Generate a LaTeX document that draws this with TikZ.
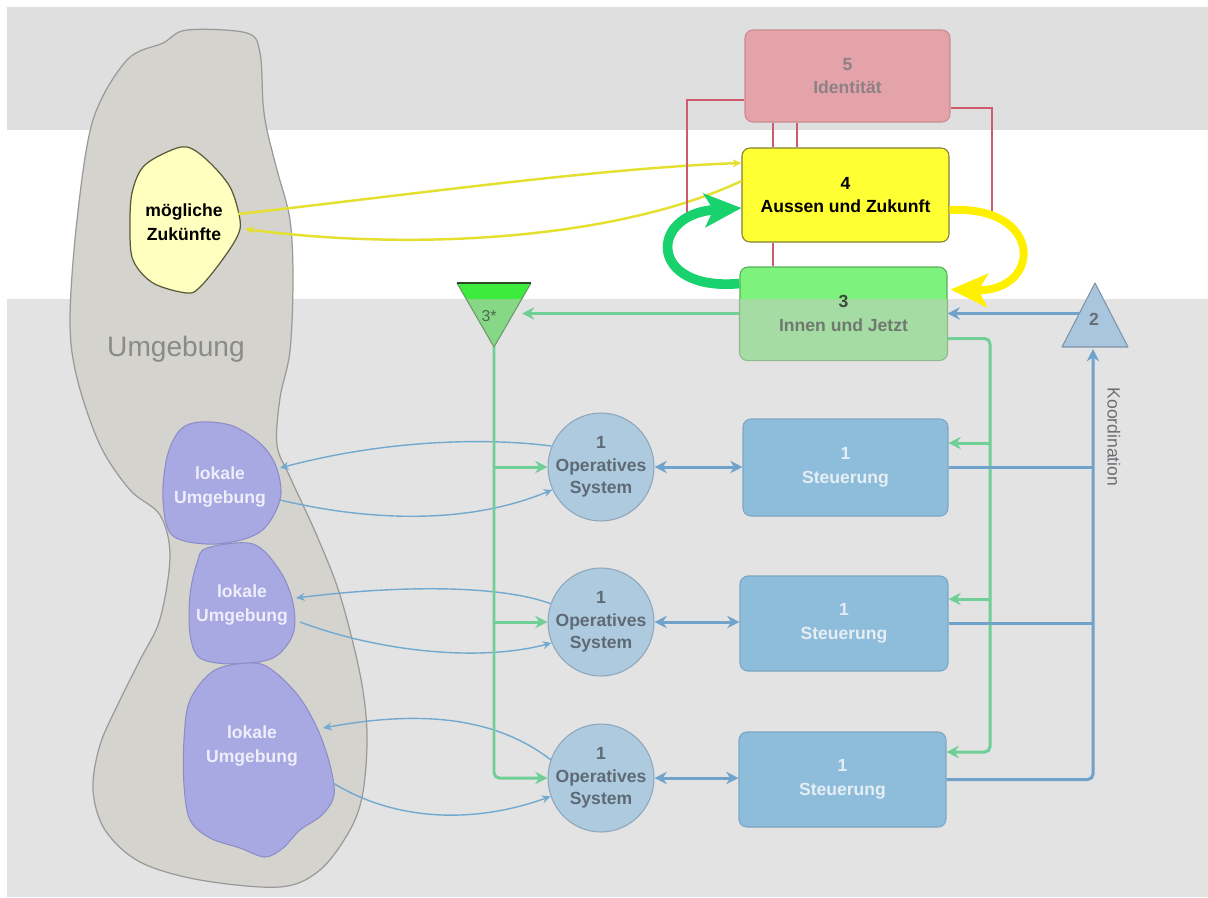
\documentclass[tikz,border=0pt]{standalone}
\usepackage{fontspec}
\setmainfont{Liberation Sans}
\usetikzlibrary{arrows.meta,shapes.geometric,calc}

% palette
\definecolor{topband}{HTML}{DFDFDF}
\definecolor{lowband}{HTML}{E3E3E3}
\definecolor{envfill}{HTML}{D4D3CE}
\definecolor{envline}{HTML}{9A9A9A}
\definecolor{envtext}{HTML}{8A8A8A}
\definecolor{mzfill}{HTML}{FFFFC0}
\definecolor{mzline}{HTML}{5A5A3A}
\definecolor{lufill}{HTML}{A8A8E3}
\definecolor{luline}{HTML}{8C8CC8}
\definecolor{lutext}{HTML}{EEEEFB}
\definecolor{idfill}{HTML}{E3A3A8}
\definecolor{idline}{HTML}{C98A90}
\definecolor{idtext}{HTML}{8C8286}
\definecolor{fzfill}{HTML}{FFFF33}
\definecolor{fzline}{HTML}{7F7F30}
\definecolor{gtop}{HTML}{7DF27D}
\definecolor{gbot}{HTML}{A4DCA4}
\definecolor{glinetop}{HTML}{55B055}
\definecolor{glinebot}{HTML}{8FB88F}
\definecolor{gnum}{HTML}{3A4A3A}
\definecolor{gtext}{HTML}{707870}
\definecolor{ttop}{HTML}{3DEB3D}
\definecolor{tbot}{HTML}{86D886}
\definecolor{tside}{HTML}{6A9A6A}
\definecolor{tedge}{HTML}{2A4A2A}
\definecolor{ttext}{HTML}{4A6A4A}
\definecolor{kofill}{HTML}{A9C6DF}
\definecolor{koline}{HTML}{7F93A8}
\definecolor{kotext}{HTML}{6A6E72}
\definecolor{opfill}{HTML}{AECADF}
\definecolor{opline}{HTML}{8EA6BC}
\definecolor{optext}{HTML}{5E6A75}
\definecolor{stfill}{HTML}{8DBDDB}
\definecolor{stline}{HTML}{7CA6C2}
\definecolor{sttext}{HTML}{E6EEF4}
\definecolor{tealc}{HTML}{6FCF97}
\definecolor{bluec}{HTML}{6FA3CC}
\definecolor{thinbluec}{HTML}{72A9D0}
\definecolor{redc}{HTML}{D05A6E}
\definecolor{ythin}{HTML}{E5DF30}
\definecolor{ythick}{HTML}{FFF000}
\definecolor{gthick}{HTML}{18D26E}

\begin{document}
\begin{tikzpicture}[x=0.02cm,y=-0.02cm,
  lbl/.style={font=\bfseries\fontsize{10}{13.5}\selectfont, align=center, inner sep=0pt},
  sysbox/.style={rectangle, rounded corners=4.5pt, minimum width=4.14cm, minimum height=1.9cm,
    inner sep=0pt, align=center, font=\bfseries\fontsize{10}{13.5}\selectfont, line width=0.6pt},
  steerbox/.style={sysbox, fill=stfill, draw=stline, text=sttext},
  opsys/.style={ellipse, minimum width=2.12cm, minimum height=2.16cm, inner sep=0pt,
    fill=opfill, draw=opline, line width=0.6pt},
  optxt/.style={text=optext, align=center, inner sep=0pt,
    font=\bfseries\fontsize{10}{12.8}\selectfont},
  blob/.style={fill=lufill, draw=luline, line width=0.6pt},
  lutxt/.style={lbl, text=lutext},
  tealline/.style={draw=tealc, line width=1.7pt},
  blueline/.style={draw=bluec, line width=1.7pt},
  thinblue/.style={draw=thinbluec, line width=0.8pt},
  redline/.style={draw=redc, line width=0.8pt},
  ythinline/.style={draw=ythin, line width=1.4pt},
  smalltip/.tip={Stealth[length=5pt,width=4.5pt]},
  midtip/.tip={Stealth[length=7pt,width=7pt]},
  bigtip/.tip={Stealth[length=21pt,width=19pt,inset=5pt]}
]
\useasboundingbox (0,0) rectangle (1208,897);

% background bands
\fill[white] (0,0) rectangle (1208,897);
\fill[topband] (7,7) rectangle (1208,130);
\fill[lowband] (7,299) rectangle (1208,897);

% environment and its parts
\draw[fill=envfill, draw=envline, line width=0.7pt] plot[smooth cycle, tension=0.55] coordinates {
  (163,43) (187,30) (247,33) (260,53) (263,103) (267,130) (277,170) (290,220) (293,280)
  (290,351) (280,398) (277,445) (290,477) (317,536) (340,595) (360,674) (367,733) (363,792)
  (350,830) (320,870) (280,887) (200,880) (140,862) (105,830) (93,790) (100,745) (120,700)
  (140,660) (160,619) (170,556) (160,515) (130,490) (100,445) (77,378) (70,320) (77,220)
  (93,120) (127,60)};
\node[font=\fontsize{16}{18}\selectfont, text=envtext, inner sep=0pt] (umg) at (176,349) {Umgebung};

\draw[fill=mzfill, draw=mzline, line width=0.7pt] plot[smooth cycle, tension=0.55] coordinates {
  (187,147) (207,160) (230,187) (240,220) (237,237) (220,263) (200,287) (187,293) (153,283)
  (133,260) (130,227) (132,193) (143,167) (167,152)};
\node[lbl, text=black] (mz) at (184,222) {mögliche\\Zukünfte};

\draw[blob] plot[smooth cycle, tension=0.55] coordinates {
  (200,422) (233,426) (262,445) (277,469) (280,500) (260,532) (217,544) (173,536) (163,500)
  (167,457) (180,430)};
\draw[blob] plot[smooth cycle, tension=0.55] coordinates {
  (207,548) (253,544) (280,571) (293,603) (293,634) (273,658) (233,664) (200,658) (190,634)
  (190,595) (197,563)};
\draw[blob] plot[smooth cycle, tension=0.55] coordinates {
  (215,670) (255,663) (276,673) (300,698) (318,730) (330,765) (334,795) (322,815) (300,830)
  (283,848) (265,857) (240,848) (210,838) (190,820) (184,785) (184,740) (190,700)};
\node[lutxt] (lu1) at (220,487) {lokale\\Umgebung};
\node[lutxt] (lu2) at (242,605) {lokale\\Umgebung};
\node[lutxt] (lu3) at (252,746) {lokale\\Umgebung};

% attachment points on the drawn outlines
\coordinate (mzOut) at (238,214);
\coordinate (mzIn) at (245,229);
\coordinate (lu1in) at (280,468);
\coordinate (lu1out) at (280,500);
\coordinate (lu2in) at (296,598);
\coordinate (lu2out) at (300,622);
\coordinate (lu3in) at (323,728);
\coordinate (lu3out) at (333,783);

% systems 5, 4, 3
\node[sysbox, fill=idfill, draw=idline, text=idtext, minimum width=4.1cm, minimum height=1.84cm] (b5) at (847.5,76) {5\\Identität};
\node[sysbox, fill=fzfill, draw=fzline, text=black, minimum height=1.88cm] (b4) at (845.5,195) {4\\Aussen und Zukunft};
\node[sysbox, fill=gtop, draw=glinetop, minimum height=1.86cm] (b3) at (843.5,313.5) {};
\begin{scope}
  \clip (0,299) rectangle (1208,897);
  \fill[gbot, rounded corners=4.5pt] (b3.south west) rectangle (b3.north east);
  \draw[glinebot, line width=0.6pt, rounded corners=4.5pt] (b3.south west) rectangle (b3.north east);
\end{scope}
\node[lbl] (b3txt) at (b3.center) {{\color{gnum}3}\\{\color{gtext}Innen und Jetzt}};

% triangle 3*
\coordinate (t3a) at (457,283);
\coordinate (t3b) at (531,283);
\coordinate (t3c) at (494,347);
\coordinate (t3r) at (522,313.5);
\fill[ttop] (t3a) -- (t3b) -- (t3c) -- cycle;
\begin{scope}
  \clip (0,299) rectangle (1208,897);
  \fill[tbot] (t3a) -- (t3b) -- (t3c) -- cycle;
\end{scope}
\draw[tside, line width=0.6pt, line join=round] (t3b) -- (t3c) -- (t3a);
\draw[tedge, line width=0.9pt] (t3a) -- (t3b);
\node[font=\fontsize{9}{10}\selectfont, text=ttext, inner sep=0pt] (t3l) at (489,316) {3*};

% triangle 2
\coordinate (t2a) at (1095,283);
\coordinate (t2b) at (1062,347);
\coordinate (t2c) at (1128,347);
\coordinate (t2l) at (1079,313.5);
\coordinate (t2base) at (1093,349);
\filldraw[fill=kofill, draw=koline, line width=0.6pt, line join=round] (t2a) -- (t2b) -- (t2c) -- cycle;
\node[font=\bfseries\fontsize{10}{12}\selectfont, text=kotext, inner sep=0pt] (t2l2) at (1094,319) {2};
\node[rotate=-90, font=\fontsize{10}{12}\selectfont, text=kotext, inner sep=0pt] (koord) at (1114,437) {Koordination};

% operations and their control units
\node[opsys] (c1) at (601,467) {};
\node[opsys] (c2) at (601,622) {};
\node[opsys] (c3) at (601,778) {};
\node[optxt] (c1t) at (c1.center) {1\\Operatives\\System};
\node[optxt] (c2t) at (c2.center) {1\\Operatives\\System};
\node[optxt] (c3t) at (c3.center) {1\\Operatives\\System};
\node[steerbox, minimum width=4.1cm, minimum height=1.94cm] (s1) at (845.5,467.5) {1\\Steuerung};
\node[steerbox, minimum width=4.16cm] (s2) at (844,623.5) {1\\Steuerung};
\node[steerbox, minimum width=4.14cm] (s3) at (842.5,779.5) {1\\Steuerung};

% operations <-> local environments
\draw[thinblue, -{smalltip}] (c1.157) .. controls (473,436) and (373,443) .. (lu1in);
\draw[thinblue, -{smalltip}] (lu1out) .. controls (373,522) and (470,524) .. (c1.205);
\draw[thinblue, -{smalltip}] (c2.160) .. controls (500,585) and (400,585) .. (lu2in);
\draw[thinblue, -{smalltip}] (lu2out) .. controls (380,652) and (480,662) .. (c2.203);
\draw[thinblue, -{smalltip}] (c3.160) .. controls (490,713) and (410,712) .. (lu3in);
\draw[thinblue, -{smalltip}] (lu3out) .. controls (400,824) and (480,822) .. (c3.200);

% operations <-> control
\draw[blueline, {midtip}-{midtip}] (c1.east) -- (c1.east -| s1.west);
\draw[blueline, {midtip}-{midtip}] (c2.east) -- (c2.east -| s2.west);
\draw[blueline, {midtip}-{midtip}] (c3.east) -- (c3.east -| s3.west);

% audit channel 3*
\coordinate (gj1) at (494,467);
\coordinate (gj2) at (494,622);
\coordinate (gj3) at (494,778);
\draw[tealline, -{midtip}] (b3.west) -- (t3r);
\draw[tealline, rounded corners=3pt, -{midtip}] (t3c) -- (gj3) -- (c3.west);
\draw[tealline, -{midtip}] (gj1) -- (c1.west);
\draw[tealline, -{midtip}] (gj2) -- (c2.west);

% system 3 -> control units
\coordinate (tjtop) at (990,338.5);
\coordinate (tj1) at (990,443);
\coordinate (tj2) at (990,599);
\coordinate (tj3) at (990,752);
\draw[tealline, rounded corners=3pt, -{midtip}] ($(b3.east)+(0,25)$) -- (tjtop) -- (tj3) -- (tj3 -| s3.east);
\draw[tealline, -{midtip}] (tj1) -- (tj1 -| s1.east);
\draw[tealline, -{midtip}] (tj2) -- (tj2 -| s2.east);

% coordination
\coordinate (kx) at (1093,0);
\draw[blueline, -{midtip}] (t2l) -- (t2l -| b3.east);
\draw[blueline] (s1.east) -- (s1.east -| kx);
\draw[blueline] (s2.east) -- (s2.east -| kx);
\draw[blueline, rounded corners=3pt, -{midtip}] (s3.east) -- (s3.east -| kx) -- (t2base);

% system 4 <-> possible futures
\draw[ythinline, -{smalltip}] (mzOut) .. controls (400,196) and (600,168) .. ($(b4.west)+(0,-32)$);
\draw[ythinline, -{smalltip}] ($(b4.west)+(0,-14)$) .. controls (620,238) and (420,252) .. (mzIn);

% identity links
\coordinate (r1e) at (687,218);
\coordinate (r2e) at (992,212);
\coordinate (x773) at (773,0);
\coordinate (x797) at (797,0);
\draw[redline] ($(b5.west)+(0,24)$) -| (r1e);
\draw[redline] ($(b5.east)+(0,32)$) -| (r2e);
\draw[redline] (b5.south -| x773) -- (b4.north -| x773);
\draw[redline] (b5.south -| x797) -- (b4.north -| x797);
\draw[redline] (b4.south -| x773) -- (b3.north -| x773);

% 3-4 homeostat
\draw[draw=gthick, line width=5.5pt, -{bigtip}] ($(b3.west)+(0,-30)$) .. controls (648,292) and (648,214) .. ($(b4.west)+(0,13)$);
\draw[draw=ythick, line width=4.5pt, -{bigtip}] ($(b4.east)+(0,15)$) .. controls (1045,205) and (1042,292) .. ($(b3.east)+(3,-24)$);
\end{tikzpicture}
\end{document}
